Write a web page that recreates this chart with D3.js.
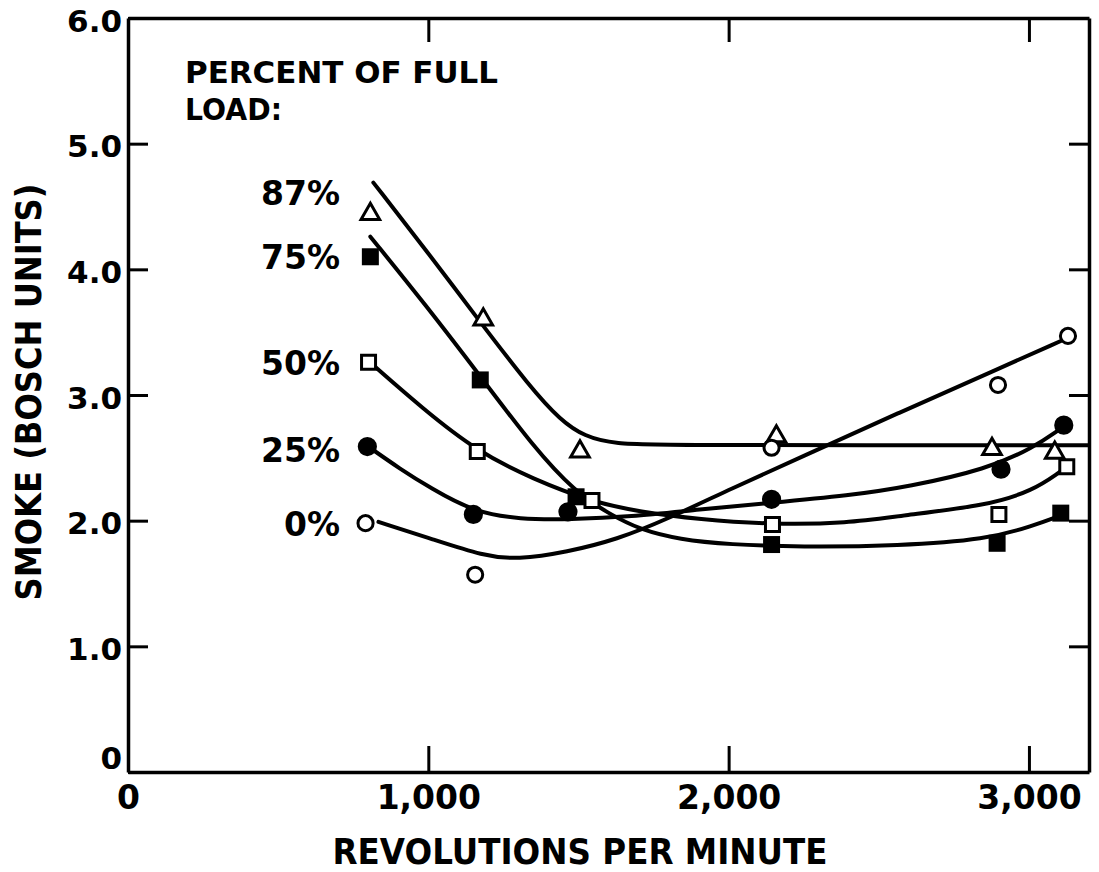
<!DOCTYPE html>
<html>
<head>
<meta charset="utf-8">
<script src="https://cdn.jsdelivr.net/npm/d3@7"></script>
<style>
  body { margin: 0; background: #fff; }
  svg { display: block; }
  text { font-family: "DejaVu Sans", sans-serif; font-weight: bold; fill: #000; }
</style>
</head>
<body>
<div id="chart"></div>
<script>
// Smoke vs engine speed at several loads.
const xTicks = [0, 1000, 2000, 3000];
const yTicks = [0, 1, 2, 3, 4, 5, 6];

const loads = ["87%", "75%", "50%", "25%", "0%"];
const labelSmoke = [4.61, 4.10, 3.25, 2.56, 1.97];   // where each load label sits

// measured points [rpm, smoke]
const obs87 = [[807, 4.44], [1183, 3.60], [1505, 2.55], [2159, 2.67], [2877, 2.57], [3086, 2.54]];
const obs75 = [[807, 4.10], [1173, 3.12], [1492, 2.19], [2143, 1.81], [2894, 1.82], [3106, 2.06]];
const obs50 = [[801, 3.26], [1163, 2.55], [1545, 2.16], [2146, 1.97], [2900, 2.05], [3126, 2.43]];
const obs25 = [[797, 2.59], [1150, 2.05], [1465, 2.07], [2143, 2.17], [2907, 2.41], [3116, 2.76]];
const obs0  = [[791, 1.98], [1156, 1.57], [2143, 2.58], [2897, 3.08], [3130, 3.47]];

// hand-faired curves [rpm, smoke]
const fit87 = [[817, 4.69], [1000, 4.13], [1160, 3.62], [1340, 3.06], [1440, 2.80], [1520, 2.67],
               [1620, 2.61], [1800, 2.60], [3200, 2.60]];
const fit75 = [[807, 4.26], [990, 3.72], [1176, 3.14], [1349, 2.59], [1488, 2.23], [1605, 2.05],
               [1704, 1.93], [1837, 1.85], [2003, 1.81], [2236, 1.79], [2568, 1.80], [2860, 1.85],
               [3014, 1.96], [3104, 2.04]];
const fit50 = [[801, 3.27], [982, 2.89], [1163, 2.55], [1349, 2.33], [1545, 2.15],
               [1704, 2.07], [1904, 2.01], [2136, 1.97], [2400, 1.98], [2571, 2.04], [2860, 2.12],
               [3014, 2.24], [3104, 2.39]];
const fit25 = [[794, 2.60], [907, 2.41], [1007, 2.26], [1150, 2.07], [1306, 2.01], [1472, 2.01],
               [1671, 2.03], [1904, 2.09], [2136, 2.14], [2402, 2.20], [2600, 2.27], [2860, 2.41],
               [3014, 2.58], [3104, 2.73]];
const fit0  = [[834, 1.99], [1017, 1.85], [1183, 1.72], [1296, 1.69], [1462, 1.75], [1628, 1.85],
               [1794, 2.01], [2013, 2.26], [2236, 2.50], [2568, 2.86], [2900, 3.21], [3106, 3.43]];

const W = 1099, H = 872;
const svg = d3.select("#chart").append("svg").attr("width", W).attr("height", H);

const x = d3.scaleLinear().domain([0, 3200]).range([128, 1089]);
const y = d3.scaleLinear().domain([0, 6]).range([772, 18]);

const series = [
  { name: loads[0], obs: obs87, fit: fit87, sym: d3.symbolTriangle, filled: false, size: 150 },
  { name: loads[1], obs: obs75, fit: fit75, sym: d3.symbolSquare,   filled: true,  size: 289 },
  { name: loads[2], obs: obs50, fit: fit50, sym: d3.symbolSquare,   filled: false, size: 196 },
  { name: loads[3], obs: obs25, fit: fit25, sym: d3.symbolCircle,   filled: true,  size: 290 },
  { name: loads[4], obs: obs0,  fit: fit0,  sym: d3.symbolCircle,   filled: false, size: 180 }
];

/* frame + ticks */
function styleAxis(g, fs) {
  g.select(".domain").attr("stroke", "#000").attr("stroke-width", 3.5);
  g.selectAll(".tick line").attr("stroke", "#000").attr("stroke-width", 3);
  g.selectAll(".tick text").attr("font-size", fs).attr("fill", "#000");
}

svg.append("g").attr("transform", `translate(0,${y(0)})`)
  .call(d3.axisBottom(x).tickValues(xTicks).tickSize(-26).tickSizeOuter(0).tickPadding(14)
    .tickFormat(d => d === 0 ? "0" : d3.format(",")(d)))
  .call(styleAxis, 33);

svg.append("g").attr("transform", `translate(${x(0)},0)`)
  .call(d3.axisLeft(y).tickValues(yTicks).tickSize(-20).tickSizeOuter(0).tickPadding(6)
    .tickFormat(d => d === 0 ? "0" : d3.format(".1f")(d)))
  .call(styleAxis, 31)
  .call(g => g.selectAll(".tick text").attr("dy", d => d === 0 ? "-0.1em" : "0.42em"));

svg.append("g").attr("transform", `translate(0,${y(6)})`)
  .call(d3.axisTop(x).tickValues([1000, 2000, 3000]).tickSize(-24).tickSizeOuter(0).tickFormat(""))
  .call(styleAxis, 31);

svg.append("g").attr("transform", `translate(${x(3200)},0)`)
  .call(d3.axisRight(y).tickValues([1, 2, 3, 4, 5]).tickSize(-20).tickSizeOuter(0).tickFormat(""))
  .call(styleAxis, 31);

/* titles */
svg.append("text")
  .attr("x", 580).attr("y", 864).attr("text-anchor", "middle")
  .attr("font-size", 36).attr("textLength", 495).attr("lengthAdjust", "spacingAndGlyphs")
  .text("REVOLUTIONS PER MINUTE");

svg.append("text")
  .attr("transform", "translate(41,392) rotate(-90)").attr("text-anchor", "middle")
  .attr("font-size", 36).attr("textLength", 417).attr("lengthAdjust", "spacingAndGlyphs")
  .text("SMOKE (BOSCH UNITS)");

svg.append("text").attr("x", 185).attr("y", 83)
  .attr("font-size", 31).attr("textLength", 313).attr("lengthAdjust", "spacingAndGlyphs")
  .text("PERCENT OF FULL");
svg.append("text").attr("x", 185).attr("y", 120)
  .attr("font-size", 31).attr("textLength", 97).attr("lengthAdjust", "spacingAndGlyphs")
  .text("LOAD:");

/* curves */
const line = d3.line().x(d => x(d[0])).y(d => y(d[1])).curve(d3.curveBasis);

svg.append("g").selectAll("path")
  .data(series).join("path")
  .attr("d", s => line(s.fit))
  .attr("fill", "none").attr("stroke", "#000").attr("stroke-width", 4)
  .attr("stroke-linecap", "round");

/* markers */
series.forEach(s => {
  svg.append("g").selectAll("path")
    .data(s.obs).join("path")
    .attr("transform", d => `translate(${x(d[0])},${y(d[1])})`)
    .attr("d", d3.symbol(s.sym, s.size))
    .attr("fill", s.filled ? "#000" : "#fff")
    .attr("stroke", "#000")
    .attr("stroke-width", s.filled ? 0 : 3);
});

/* load labels */
svg.append("g").selectAll("text")
  .data(series).join("text")
  .attr("x", 340).attr("y", (s, i) => y(labelSmoke[i]))
  .attr("dy", "0.36em").attr("text-anchor", "end")
  .attr("font-size", 33)
  .text(s => s.name);
</script>
</body>
</html>
